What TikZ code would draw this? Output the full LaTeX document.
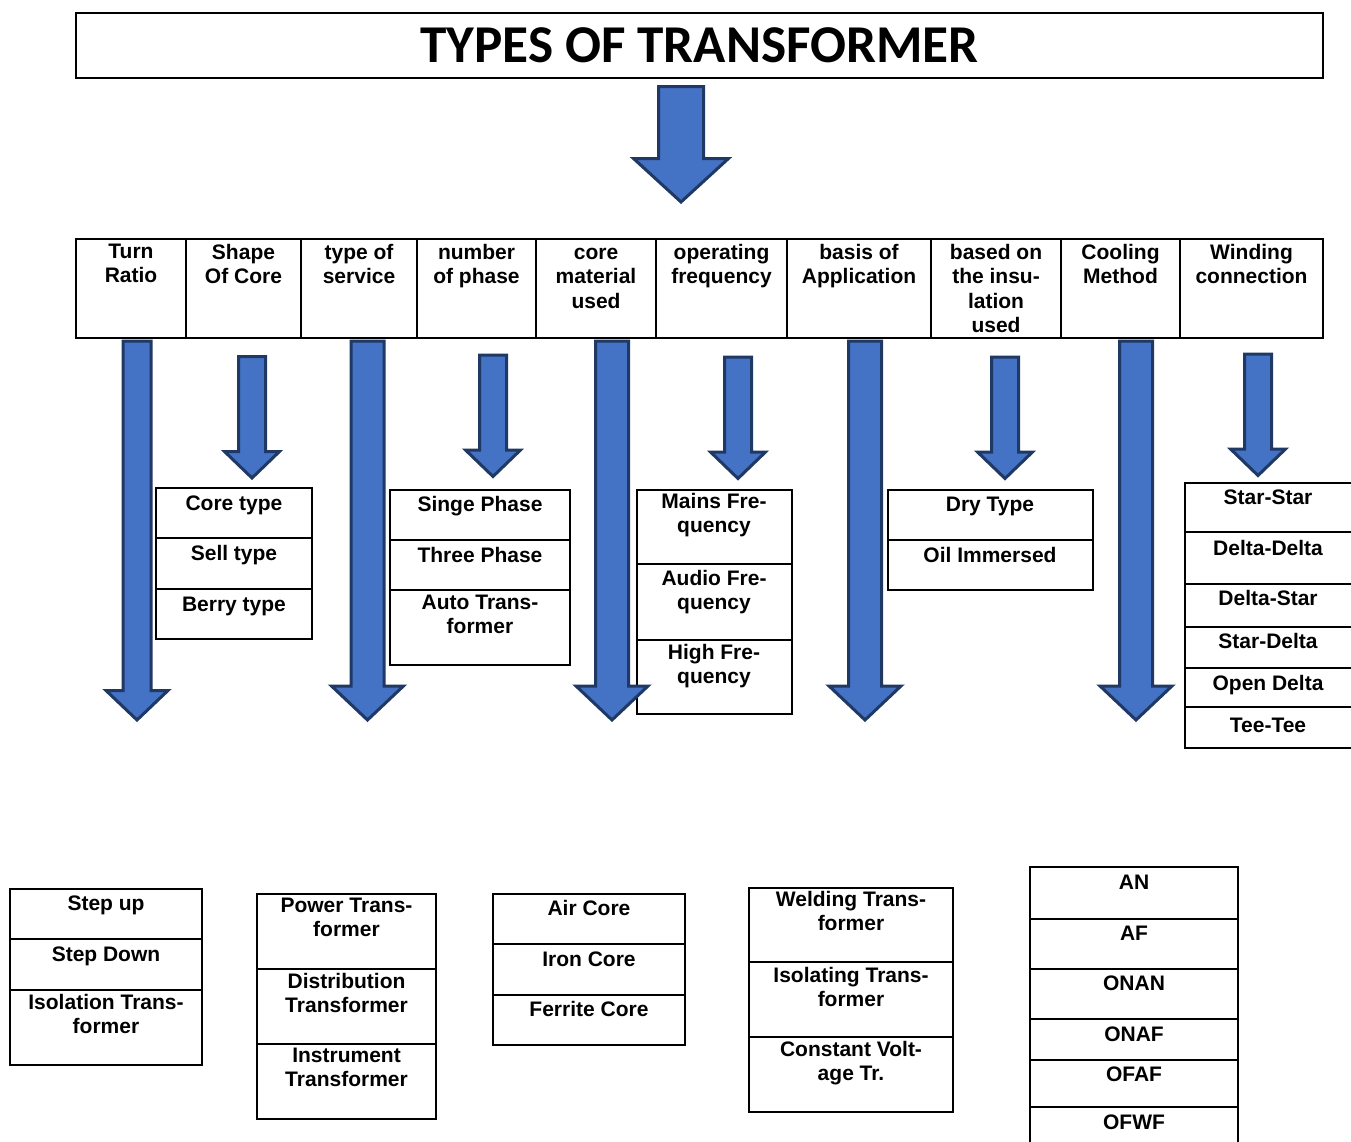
\documentclass[tikz,border=0pt]{standalone}
\usepackage{fontspec}
\setmainfont{Liberation Sans}
\newfontfamily\titlefont{Carlito}
\usepackage{xcolor}
\definecolor{arrowblue}{HTML}{4472C4}
\definecolor{arrownavy}{HTML}{1F3864}
\newcommand{\cellfont}{\fontsize{21}{24.3}\selectfont\bfseries}
% block arrow: centre x, top, tip, half shaft, half head, head length
\newcommand{\blockarrow}[6]{%
  \filldraw[fatarrow] (#1-#4,#2) -- (#1+#4,#2) -- (#1+#4,#3-#6) -- (#1+#5,#3-#6)
    -- (#1,#3) -- (#1-#5,#3-#6) -- (#1-#4,#3-#6) -- cycle;}

\begin{document}
\begin{tikzpicture}[x=1pt,y=-1pt,
  box/.style={draw=black, line width=2pt},
  cell/.style={anchor=north, yshift=8pt, align=center, inner sep=0pt,
    font=\cellfont, execute at begin node=\strut},
  fatarrow/.style={fill=arrowblue, draw=arrownavy, line width=3pt, line join=miter}]
  \useasboundingbox (0,0) rectangle (1351,1141);
  \clip (0,0) rectangle (1351,1141);

  % Title
  \node[box, minimum width=1247pt, minimum height=65pt, inner sep=0pt,
    font=\titlefont\fontsize{53.2}{60}\selectfont\bfseries] (title) at (699.5,45)
    {TYPES OF TRANSFORMER};
  \blockarrow{681}{86.5}{202}{22.5}{47.5}{43.5}

  % Header row of categories
  \draw[box] (76,239) rectangle (1323,338);
  \foreach \x in {186,301,417,536,656,787,931,1061,1180}
    \draw[box] (\x,239) -- (\x,338);
  \foreach \nm/\cx/\lbl in {ratio/131/{Turn\\Ratio}, shape/243.5/{Shape\\Of Core},
      service/359/{type of\\service}, phase/476.5/{number\\of phase},
      material/596/{\vphantom{b}core\\material\\used}, freq/721.5/{operating\\frequency},
      appl/859/{basis of\\Application}, insul/996/{based on\\the insu-\\lation\\used},
      cooling/1120.5/{Cooling\\Method}, winding/1251.5/{Winding\\connection}}
    \node[cell] (h\nm) at (\cx,252) {\lbl};

  % Shape of core
  \draw[box] (156,488) rectangle (312,639) (156,538) -- (312,538) (156,589) -- (312,589);
  \foreach \nm/\y/\lbl in {core/501/Core type, shell/551/Sell type, berry/602/Berry type}
    \node[cell] (\nm) at (234,\y) {\lbl};

  % Number of phase
  \draw[box] (390,490) rectangle (570,665) (390,540) -- (570,540) (390,590) -- (570,590);
  \foreach \nm/\y/\lbl in {single/502/Singe Phase, three/553/Three Phase,
      auto/603/{Auto Trans-\\former}}
    \node[cell] (\nm) at (480,\y) {\lbl};

  % Operating frequency
  \draw[box] (637,490) rectangle (792,714) (637,564) -- (792,564) (637,640) -- (792,640);
  \foreach \nm/\y/\lbl in {mains/501/{Mains Fre-\\quency}, audio/578/{Audio Fre-\\quency},
      high/652/{High Fre-\\quency}}
    \node[cell] (\nm) at (714,\y) {\lbl};

  % Insulation
  \draw[box] (888,490) rectangle (1093,590) (888,540) -- (1093,540);
  \foreach \nm/\y/\lbl in {dry/502/Dry Type, oil/553/Oil Immersed}
    \node[cell] (\nm) at (990,\y) {\lbl};

  % Winding connection
  \draw[box] (1185,483) rectangle (1353,748);
  \foreach \y in {532,584,627,668,707}
    \draw[box] (1185,\y) -- (1353,\y);
  \foreach \nm/\y/\lbl in {yy/495/Star-Star, dd/546/Delta-Delta, dy/596/Delta-Star,
      yd/639/Star-Delta, vv/681/Open Delta, tt/723/Tee-Tee}
    \node[cell] (\nm) at (1268,\y) {\lbl};

  % Turn ratio
  \draw[box] (10,889) rectangle (202,1065) (10,939) -- (202,939) (10,990) -- (202,990);
  \foreach \nm/\y/\lbl in {up/901/Step up, down/952/Step Down,
      isolation/1002/{Isolation Trans-\\former}}
    \node[cell] (\nm) at (106,\y) {\lbl};

  % Type of service
  \draw[box] (257,894) rectangle (436,1119) (257,969) -- (436,969) (257,1044) -- (436,1044);
  \foreach \nm/\y/\lbl in {power/906/{Power Trans-\\former}, distr/981/{Distribution\\Transformer},
      instr/1056/{Instrument\\Transformer}}
    \node[cell] (\nm) at (346.5,\y) {\lbl};

  % Core material
  \draw[box] (493,894) rectangle (685,1045) (493,944) -- (685,944) (493,995) -- (685,995);
  \foreach \nm/\y/\lbl in {air/906/Air Core, iron/957/Iron Core, ferrite/1007/Ferrite Core}
    \node[cell] (\nm) at (589,\y) {\lbl};

  % Basis of application
  \draw[box] (749,888) rectangle (953,1112) (749,962) -- (953,962) (749,1037) -- (953,1037);
  \foreach \nm/\y/\lbl in {welding/899/{Welding Trans-\\former}, isolating/975/{Isolating Trans-\\former},
      constant/1049/{Constant Volt-\\age Tr.}}
    \node[cell] (\nm) at (851,\y) {\lbl};

  % Cooling method
  \draw[box] (1030,867) rectangle (1238,1150);
  \foreach \y in {919,969,1019,1060,1107}
    \draw[box] (1030,\y) -- (1238,\y);
  \foreach \nm/\y/\lbl in {an/880/AN, af/931/AF, onan/981/ONAN, onaf/1032/ONAF,
      ofaf/1072/OFAF, ofwf/1120/OFWF}
    \node[cell] (\nm) at (1134,\y) {\lbl};

  % Long arrows
  \blockarrow{137}{341}{720}{14}{31}{29.5}
  \foreach \cx in {367.5,612,865,1136}
    {\blockarrow{\cx}{341}{720}{16.5}{36}{34}}
  % Short arrows
  \foreach \cx/\t in {252/356.5,493/355,738/357,1005/357,1258/354}
    {\blockarrow{\cx}{\t}{\t+121.5}{13.5}{27.5}{26.5}}
\end{tikzpicture}
\end{document}
